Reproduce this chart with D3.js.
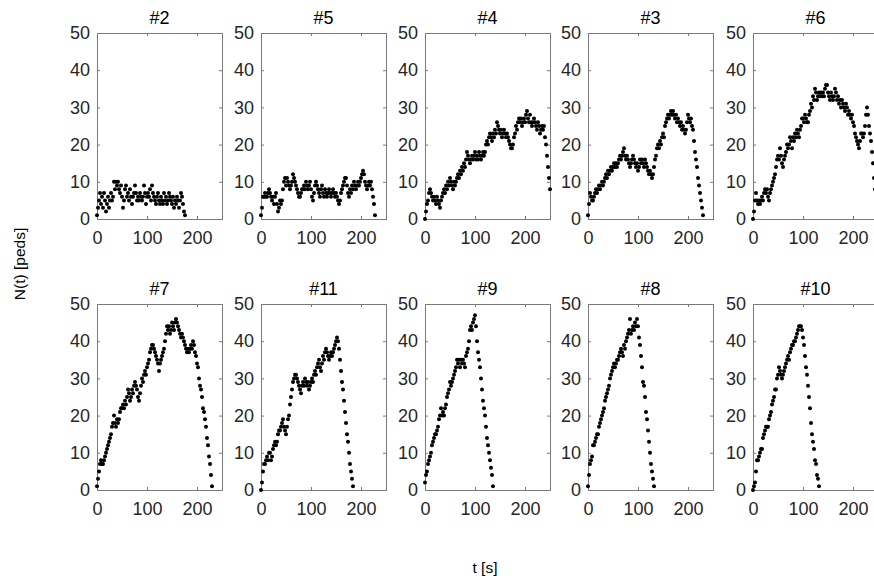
<!DOCTYPE html>
<html>
<head>
<meta charset="utf-8">
<script src="https://cdn.jsdelivr.net/npm/d3@7"></script>
<style>
  html, body { margin: 0; padding: 0; background: #fff; }
  svg { display: block; }
  text { font-family: Arial, "Liberation Sans", sans-serif; }
</style>
</head>
<body>
<svg id="chart" width="874" height="580"></svg>
<script>
// Pedestrian counts N(t) per experiment, sampled every T_STEP seconds
const T_STEP = 2;

const panelTitles = ["#2", "#5", "#4", "#3", "#6", "#7", "#11", "#9", "#8", "#10"];

const n2 = [1,3,5,7,4,6,3,7,5,2,4,6,3,5,7,5,6,10,8,10,9,10,8,7,9,6,3,5,8,9,6,7,5,8,6,4,6,7,9,7,5,6,5,7,6,5,6,9,7,4,6,7,6,8,5,9,7,6,5,4,6,7,5,4,6,5,4,7,5,6,4,5,7,6,5,4,6,3,5,4,6,5,3,5,7,6,4,2,1];

const n5 = [1,3,6,6,7,6,6,7,8,7,6,5,6,4,6,7,4,2,3,5,4,5,8,10,11,9,11,10,9,8,9,10,12,11,10,9,8,7,6,6,7,8,8,9,8,10,9,8,9,10,8,6,5,7,9,10,9,8,7,6,8,9,7,6,8,7,6,7,8,7,6,7,8,7,6,7,6,5,4,5,7,8,9,10,11,11,9,7,6,8,7,9,8,10,9,8,9,10,9,10,11,12,13,12,10,9,8,9,10,9,10,8,6,4,1];

const n4 = [0,2,4,5,7,8,7,6,5,6,5,4,6,5,4,3,5,6,7,8,7,9,8,10,9,11,10,9,8,10,9,10,11,12,11,13,12,14,13,15,14,16,18,17,16,15,16,17,16,17,18,16,17,16,18,17,16,17,18,17,18,20,21,20,22,23,22,21,23,22,24,23,26,25,24,23,24,22,23,24,23,22,23,22,21,20,19,19,20,22,23,25,24,26,27,26,27,25,26,27,26,28,29,27,26,28,26,25,26,27,26,25,24,26,25,23,24,25,24,25,22,20,17,14,11,8];

const n3 = [1,4,7,6,5,5,6,7,8,7,8,9,8,9,10,9,10,11,12,11,13,12,13,14,13,14,15,14,15,14,15,16,17,16,17,18,19,17,16,17,16,15,14,15,16,17,16,15,14,15,13,14,16,15,16,15,14,16,15,14,13,12,13,12,11,12,14,16,17,19,20,19,21,20,22,23,22,25,26,27,28,27,28,29,28,29,28,27,28,26,27,26,25,26,24,25,24,23,24,26,28,27,26,27,25,24,21,18,16,14,11,9,7,5,3,1];

const n6 = [0,2,5,7,5,4,5,4,5,6,5,7,8,7,8,6,5,7,8,9,10,11,12,14,16,17,16,19,17,15,14,16,17,18,20,19,20,22,21,19,22,21,23,22,24,23,22,24,25,27,27,26,28,27,26,26,28,29,31,30,33,32,35,34,32,33,34,33,34,33,34,33,35,36,36,34,33,32,34,33,32,33,35,34,32,33,31,32,30,32,31,30,29,31,30,28,29,28,27,28,26,25,23,22,21,20,19,21,23,23,22,23,25,28,30,28,25,23,21,18,15,11,8,5,3];

const n7 = [1,3,5,7,8,7,7,8,9,10,11,12,13,14,15,17,18,20,18,17,19,18,19,21,22,22,23,22,24,23,25,27,26,24,25,27,26,28,29,28,27,25,24,26,28,30,29,31,32,31,33,34,35,37,38,39,39,38,37,36,35,34,32,34,35,36,37,38,40,42,44,43,44,42,43,45,44,43,45,46,45,44,43,42,41,42,41,40,39,38,37,38,37,38,39,38,40,39,37,36,34,33,30,28,27,25,22,21,19,17,14,12,9,7,4,1];

const n11 = [0,2,5,7,7,8,9,8,10,10,8,9,11,12,13,12,13,15,16,16,17,18,19,17,16,15,17,19,20,23,25,27,29,30,31,31,30,29,28,27,26,28,29,28,30,29,28,29,27,28,29,30,29,31,32,31,33,34,35,33,32,34,36,35,37,38,37,36,35,36,37,36,37,38,39,40,41,40,38,35,32,29,27,24,21,18,15,13,10,7,5,3,1];

const n9 = [2,4,5,7,8,9,10,12,13,14,15,15,16,17,19,20,22,20,21,20,22,23,25,26,27,29,28,29,30,31,32,33,35,34,35,33,35,34,35,34,33,36,37,38,40,43,44,43,45,46,47,44,40,37,35,33,30,27,24,22,20,17,14,12,10,8,6,4,1];

const n8 = [1,4,7,8,9,12,12,13,14,15,15,17,18,19,20,21,22,24,25,26,27,28,30,31,32,33,34,33,34,35,35,36,37,38,37,36,39,38,40,41,42,43,46,42,43,44,43,45,44,46,44,41,39,36,33,29,28,25,21,19,16,13,10,7,5,3,1];

const n10 = [0,1,2,5,8,8,9,10,11,11,14,15,16,17,17,17,19,20,21,23,24,25,27,27,30,31,33,32,31,30,31,32,33,34,35,36,35,37,38,39,39,40,40,41,42,43,44,44,44,43,41,39,36,33,31,28,25,22,18,15,13,11,8,7,4,3,1];

const seriesList = [n2, n5, n4, n3, n6, n7, n11, n9, n8, n10];

const xTicks = [0, 100, 200];
const yTicks = [0, 10, 20, 30, 40, 50];
const xLabel = "t [s]";
const yLabel = "N(t) [peds]";

// ---- layout ----
const svg = d3.select("#chart");
const plotW = 125, plotH = 186;
const colX = [97, 261, 425, 588, 753];
const rowY = [33, 304];

const x = d3.scaleLinear().domain([0, 250]).range([0, plotW]);
const y = d3.scaleLinear().domain([0, 50]).range([plotH, 0]);

const tickColor = "#262626";
const boxColor = "#7a7a7a";
const tickFont = "18px";

seriesList.forEach((vals, i) => {
  const col = i % 5, row = Math.floor(i / 5);
  const g = svg.append("g").attr("transform", `translate(${colX[col]},${rowY[row]})`);

  g.append("rect").attr("width", plotW).attr("height", plotH).attr("fill", "#fff");

  const styleAxis = sel => {
    sel.select(".domain").remove();
    sel.selectAll(".tick line").attr("stroke", boxColor);
    sel.selectAll(".tick text").attr("fill", tickColor).style("font-size", tickFont)
      .style("font-family", "Arial, 'Liberation Sans', sans-serif");
  };

  g.append("g").attr("transform", `translate(0,${plotH})`)
    .call(d3.axisBottom(x).tickValues(xTicks).tickSize(-3).tickPadding(12))
    .call(styleAxis);
  g.append("g")
    .call(d3.axisTop(x).tickValues(xTicks).tickSize(-3).tickFormat(""))
    .call(styleAxis);
  g.append("g")
    .call(d3.axisLeft(y).tickValues(yTicks).tickSize(-3).tickPadding(7))
    .call(styleAxis);
  g.append("g").attr("transform", `translate(${plotW},0)`)
    .call(d3.axisRight(y).tickValues(yTicks).tickSize(-3).tickFormat(""))
    .call(styleAxis);

  g.append("rect").attr("x", 0.5).attr("y", 0.5)
    .attr("width", plotW).attr("height", plotH)
    .attr("fill", "none").attr("stroke", boxColor).attr("stroke-width", 1);

  // samples
  g.append("g").selectAll("circle")
    .data(vals)
    .join("circle")
    .attr("cx", (d, k) => x(k * T_STEP))
    .attr("cy", d => y(d))
    .attr("r", 2)
    .attr("fill", "#000");

  g.append("text")
    .attr("x", plotW / 2).attr("y", -9)
    .attr("text-anchor", "middle")
    .attr("fill", "#000")
    .style("font-size", "18px")
    .text(panelTitles[i]);
});

svg.append("text")
  .attr("transform", "translate(25,264) rotate(-90)")
  .attr("text-anchor", "middle")
  .attr("fill", "#000")
  .style("font-size", "15.5px")
  .text(yLabel);

svg.append("text")
  .attr("x", 485).attr("y", 573)
  .attr("text-anchor", "middle")
  .attr("fill", "#000")
  .style("font-size", "15.5px")
  .text(xLabel);
</script>
</body>
</html>
